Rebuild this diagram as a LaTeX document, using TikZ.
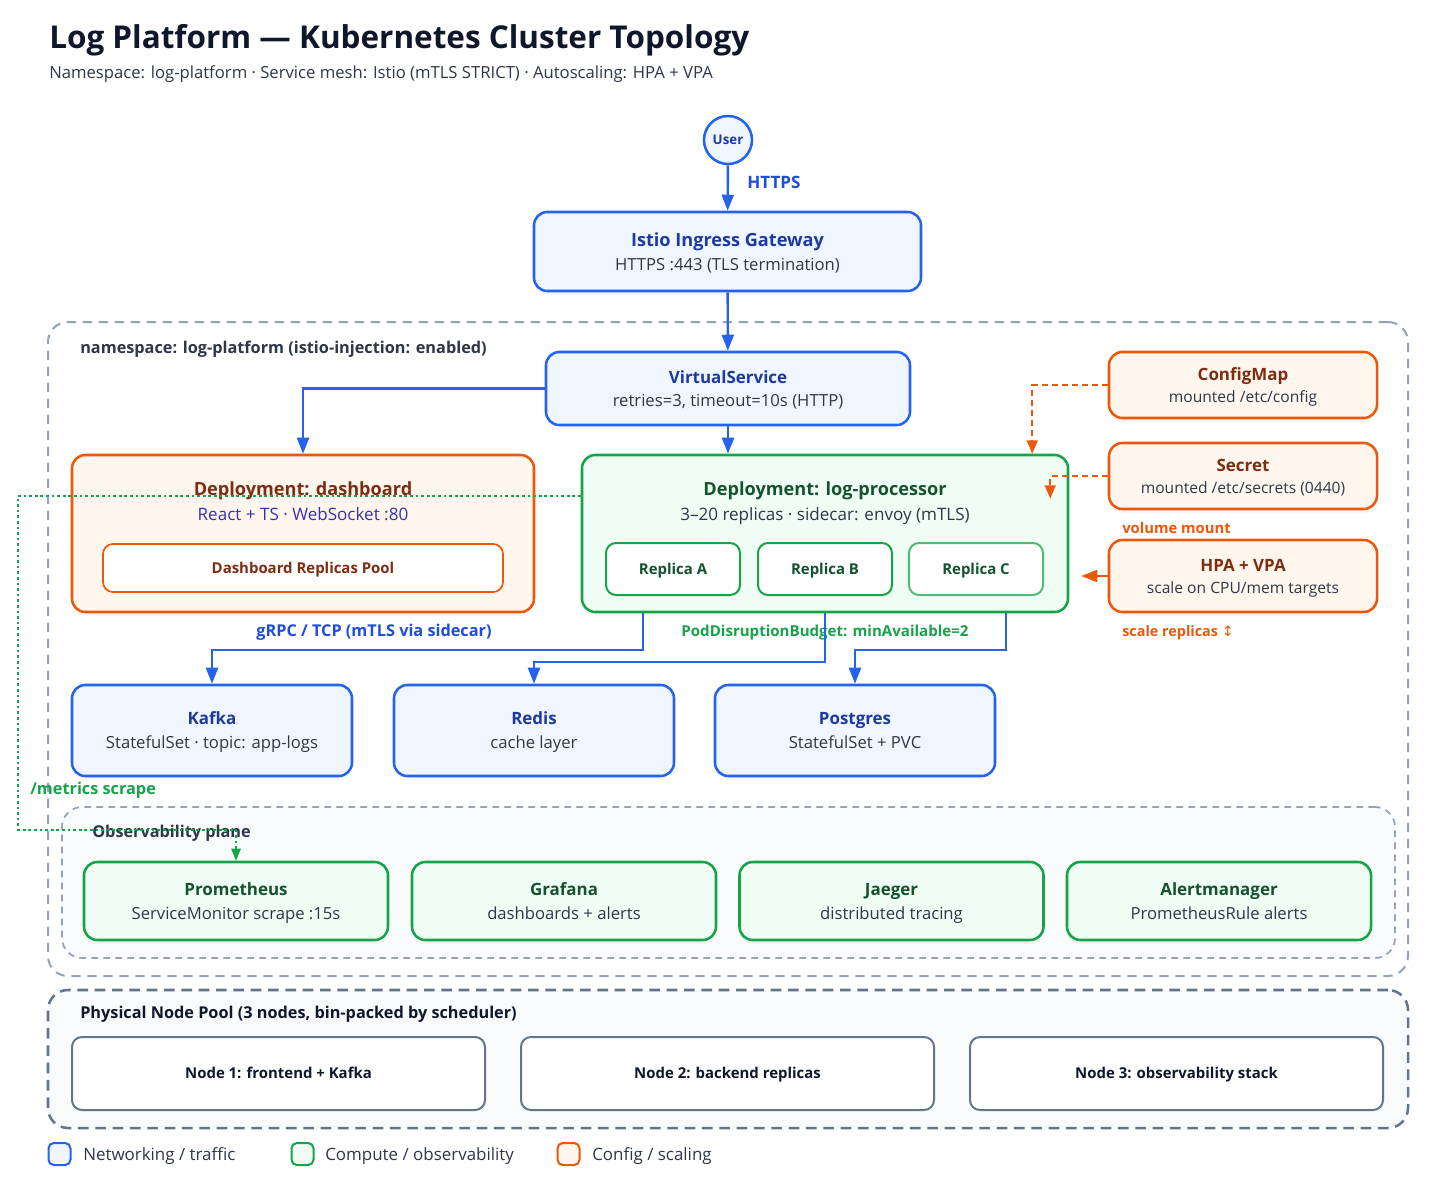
\documentclass[tikz,border=0pt]{standalone}
\usepackage{fontspec}
\setmainfont{Open Sans}
\newfontfamily\symfont{DejaVu Sans}
\usepackage{xcolor}
\usepackage{tikz}
\usetikzlibrary{arrows.meta,calc,positioning,shadows}
\definecolor{ink}{RGB}{15,23,42}
\definecolor{slate}{RGB}{45,55,72}
\definecolor{netblue}{RGB}{37,99,235}
\definecolor{netfill}{RGB}{239,246,255}
\definecolor{netink}{RGB}{30,58,160}
\definecolor{linkblue}{RGB}{29,78,216}
\definecolor{cmpgreen}{RGB}{22,163,74}
\definecolor{cmpfill}{RGB}{240,253,244}
\definecolor{cmpink}{RGB}{20,83,45}
\definecolor{cfgorange}{RGB}{234,88,12}
\definecolor{cfgfill}{RGB}{255,247,237}
\definecolor{cfgink}{RGB}{124,45,18}
\definecolor{reactink}{RGB}{55,48,180}
\definecolor{nsgray}{RGB}{148,163,184}
\definecolor{poolgray}{RGB}{100,116,139}
\definecolor{planefill}{RGB}{248,250,252}
\newdimen\pxu \pxu=0.75pt
\newcommand\boxhead{\fontsize{12.7}{18}\selectfont\bfseries}
\newcommand\bighead{\fontsize{13.6}{18}\selectfont\bfseries}
\tikzset{
  card/.style={line width=1.9pt,rounded corners=10pt,align=center,inner sep=0pt,
    font=\fontsize{12.5}{18}\selectfont,text=slate,text depth=-2pt,
    drop shadow={opacity=0.07,shadow xshift=0pt,shadow yshift=-3pt}},
  netbox/.style={card,draw=netblue,fill=netfill},
  cmpbox/.style={card,draw=cmpgreen,fill=cmpfill},
  cfgbox/.style={card,draw=cfgorange,fill=cfgfill,font=\fontsize{11.7}{16.5}\selectfont},
  podbox/.style={draw=cmpgreen,fill=white,line width=1.5pt,rounded corners=7.5pt,inner sep=0pt,
    minimum width=134\pxu,minimum height=52\pxu,font=\fontsize{11.2}{13}\selectfont\bfseries,text=cmpink,
    text height=8pt,text depth=0pt},
  hostbox/.style={draw=poolgray,fill=white,line width=1.5pt,rounded corners=7.5pt,inner sep=0pt,
    minimum width=413\pxu,minimum height=73\pxu,font=\fontsize{11.2}{13}\selectfont\bfseries,text=ink,
    text height=8pt,text depth=0pt},
  zone/.style={rounded corners=15pt,inner sep=0pt},
  tag/.style={font=\fontsize{12.2}{14}\selectfont\bfseries,inner sep=0pt,text height=8.7pt,text depth=0pt},
  legendbox/.style={line width=1.5pt,rounded corners=4pt,minimum size=22\pxu,inner sep=0pt},
  flow/.style={-{Triangle[length=12pt,width=9pt]},line width=1.8pt,draw=netblue},
  mount/.style={-{Triangle[length=10pt,width=8pt]},line width=1.6pt,draw=cfgorange,dash pattern=on 4.5pt off 3pt},
  scaler/.style={-{Triangle[length=12pt,width=9pt]},line width=1.6pt,draw=cfgorange},
  scrape/.style={-{Triangle[length=9pt,width=7pt]},line width=1.3pt,draw=cmpgreen,dash pattern=on 2pt off 2.2pt}
}
\begin{document}
\begin{tikzpicture}[x=0.75pt,y=-0.75pt]
  \useasboundingbox[fill=white] (0,0) rectangle (1456,1189);
  % heading
  \node[anchor=base west,inner sep=0pt,font=\fontsize{23.6}{28}\selectfont\bfseries,text=ink] (title) at (49,48) {Log Platform — Kubernetes Cluster Topology};
  \node[anchor=base west,inner sep=0pt,font=\fontsize{12.5}{15}\selectfont,text=slate] (subtitle) at (49,78.5) {Namespace: log-platform · Service mesh: Istio (mTLS STRICT) · Autoscaling: HPA + VPA};
  % containers
  \node[zone,draw=nsgray,line width=1.5pt,dash pattern=on 7pt off 5pt,minimum width=1360\pxu,minimum height=654\pxu] (ns) at (728,649) {};
  \node[tag,anchor=west,text=slate] (nslabel) at (80,348) {namespace: log-platform (istio-injection: enabled)};
  \node[zone,draw=nsgray,fill=planefill,line width=1.3pt,dash pattern=on 5pt off 4pt,minimum width=1333\pxu,minimum height=151\pxu] (plane) at (728.5,882.5) {};
  \node[zone,draw=poolgray,fill=planefill,line width=1.9pt,dash pattern=on 8pt off 5pt,minimum width=1360\pxu,minimum height=138\pxu] (pool) at (728,1059) {};
  \node[tag,anchor=west,text=ink] (poollabel) at (80,1013) {Physical Node Pool (3 nodes, bin-packed by scheduler)};
  % ingress
  \node[circle,draw=netblue,fill=netfill,line width=1.9pt,minimum size=48\pxu,inner sep=0pt,font=\fontsize{10}{12}\selectfont\bfseries,text=netink] (user) at (728,140) {User};
  \node[netbox,minimum width=387\pxu,minimum height=79\pxu] (gw) at (727.5,251.5) {{\bighead\color{netink}Istio Ingress Gateway}\\HTTPS :443 (TLS termination)};
  \node[netbox,minimum width=364\pxu,minimum height=73\pxu,font=\fontsize{12.5}{17.25}\selectfont] (vs) at (728,388.5) {{\boxhead\color{netink}VirtualService}\\retries=3, timeout=10s (HTTP)};
  % deployments
  \node[cfgbox,minimum width=462\pxu,minimum height=157\pxu] (dash) at (303,533.5) {};
  \node[align=center,inner sep=0pt,font=\fontsize{12.8}{18.75}\selectfont,text=reactink] (dashhead) at (303,501) {{\bighead\color{cfgink}Deployment: dashboard}\\React + TS · WebSocket :80};
  \node[draw=cfgorange,fill=white,line width=1.3pt,rounded corners=7.5pt,inner sep=0pt,minimum width=400\pxu,minimum height=48\pxu,font=\fontsize{11.2}{13}\selectfont\bfseries,text=cfgink,text height=8pt,text depth=0pt] (pool0) at (303,568) {Dashboard Replicas Pool};
  \node[cmpbox,minimum width=486\pxu,minimum height=157\pxu] (lp) at (825,533.5) {};
  \node[align=center,inner sep=0pt,font=\fontsize{12.8}{18.75}\selectfont,text=slate] (lphead) at (825,503) {{\bighead\color{cmpink}Deployment: log-processor}\\3–20 replicas · sidecar: envoy (mTLS)};
  \node[podbox] (repa) at (673,569) {Replica A};
  \node[podbox] (repb) at (825,569) {Replica B};
  \node[podbox,draw=cmpgreen!75] (repc) at (976,569) {Replica C};
  % config and scaling
  \node[cfgbox,minimum width=268\pxu,minimum height=66\pxu] (cfg) at (1243,385) {{\boxhead\color{cfgink}ConfigMap}\\mounted /etc/config};
  \node[cfgbox,minimum width=268\pxu,minimum height=66\pxu] (sec) at (1243,476) {{\boxhead\color{cfgink}Secret}\\mounted /etc/secrets (0440)};
  \node[cfgbox,minimum width=268\pxu,minimum height=72\pxu] (hpa) at (1243,576) {{\boxhead\color{cfgink}HPA + VPA}\\scale on CPU/mem targets};
  \node[tag,anchor=west,text=cfgorange,font=\fontsize{11.1}{13}\selectfont\bfseries,text height=8pt] (mountlabel) at (1122,528) {volume mount};
  \node[tag,anchor=west,text=cfgorange,font=\fontsize{10.8}{13}\selectfont\bfseries,text height=8pt] (scalelabel) at (1122,631) {scale replicas {\symfont\mdseries ↕}};
  % data stores
  \node[netbox,minimum width=280\pxu,minimum height=91\pxu] (kafka) at (212,730.5) {{\boxhead\color{netink}Kafka}\\StatefulSet · topic: app-logs};
  \node[netbox,minimum width=280\pxu,minimum height=91\pxu] (redis) at (534,730.5) {{\boxhead\color{netink}Redis}\\cache layer};
  \node[netbox,minimum width=280\pxu,minimum height=91\pxu] (pg) at (855,730.5) {{\boxhead\color{netink}Postgres}\\StatefulSet + PVC};
  \node[tag,text=linkblue] (grpclabel) at (374,631) {gRPC / TCP (mTLS via sidecar)};
  \node[tag,text=cmpgreen,font=\fontsize{11.3}{13}\selectfont\bfseries,text height=8pt] (pdblabel) at (825,631) {PodDisruptionBudget: minAvailable=2};
  % observability
  \node[tag,anchor=west,text=slate] (planelabel) at (92,832) {Observability plane};
  \node[cmpbox,minimum width=304\pxu,minimum height=78\pxu] (prom) at (236,901) {{\boxhead\color{cmpink}Prometheus}\\ServiceMonitor scrape :15s};
  \node[cmpbox,minimum width=304\pxu,minimum height=78\pxu] (graf) at (564,901) {{\boxhead\color{cmpink}Grafana}\\dashboards + alerts};
  \node[cmpbox,minimum width=304\pxu,minimum height=78\pxu] (jaeger) at (891.5,901) {{\boxhead\color{cmpink}Jaeger}\\distributed tracing};
  \node[cmpbox,minimum width=304\pxu,minimum height=78\pxu] (alert) at (1219,901) {{\boxhead\color{cmpink}Alertmanager}\\PrometheusRule alerts};
  \node[tag,anchor=west,text=cmpgreen] (scrapelabel) at (30,789) {/metrics scrape};
  % nodes of the pool
  \node[hostbox] (node1) at (278.5,1073.5) {Node 1: frontend + Kafka};
  \node[hostbox] (node2) at (727.5,1073.5) {Node 2: backend replicas};
  \node[hostbox] (node3) at (1176.5,1073.5) {Node 3: observability stack};
  % traffic
  \draw[flow] (user) -- (gw);
  \node[tag,anchor=west,text=linkblue,font=\fontsize{12.8}{15}\selectfont\bfseries,text height=9pt] (httpslabel) at (747,182) {HTTPS};
  \draw[flow] (gw) -- (vs);
  \draw[flow] (vs.west) -| (dash.north);
  \draw[flow] (vs.south) -- (vs.south |- lp.north);
  \draw[flow] ($(lp.south)+(-182,0)$) -- ++(0,37) -| (kafka.north);
  \draw[flow] (lp.south) -- ++(0,49) -| (redis.north);
  \draw[flow] ($(lp.south)+(181,0)$) -- ++(0,37) -| (pg.north);
  % mounts and scaling
  \coordinate (cfgin) at ($(lp.north east)+(-37,0)$);
  \coordinate (secin) at ($(lp.north east)+(-19,45)$);
  \coordinate (hpain) at ($(lp.east)+(12,0)$);
  \draw[mount] (cfg.west) -| (cfgin);
  \draw[mount] (sec.west) -| (secin);
  \draw[scaler] (hpa.west) -- (hpa.west -| hpain);
  % metrics scrape
  \coordinate (scrfrom) at ($(lp.north west)+(0,42)$);
  \coordinate (scrx) at (18,0);
  \draw[scrape] (scrfrom) -- (scrfrom -| scrx) |- ($(prom.north)+(0,-31)$) -- (prom.north);
  % legend
  \node[legendbox,draw=netblue,fill=netfill] (lgnet) at (59.5,1154) {};
  \node[anchor=west,inner sep=0pt,font=\fontsize{12.7}{15}\selectfont,text=slate,text height=9pt,text depth=0pt] (lgnettext) at (83,1154) {Networking / traffic};
  \node[legendbox,draw=cmpgreen,fill=cmpfill] (lgcmp) at (302.5,1154) {};
  \node[anchor=west,inner sep=0pt,font=\fontsize{12.7}{15}\selectfont,text=slate,text height=9pt,text depth=0pt] (lgcmptext) at (325,1154) {Compute / observability};
  \node[legendbox,draw=cfgorange,fill=cfgfill] (lgcfg) at (568.5,1154) {};
  \node[anchor=west,inner sep=0pt,font=\fontsize{12.7}{15}\selectfont,text=slate,text height=9pt,text depth=0pt] (lgcfgtext) at (592,1154) {Config / scaling};
\end{tikzpicture}
\end{document}
